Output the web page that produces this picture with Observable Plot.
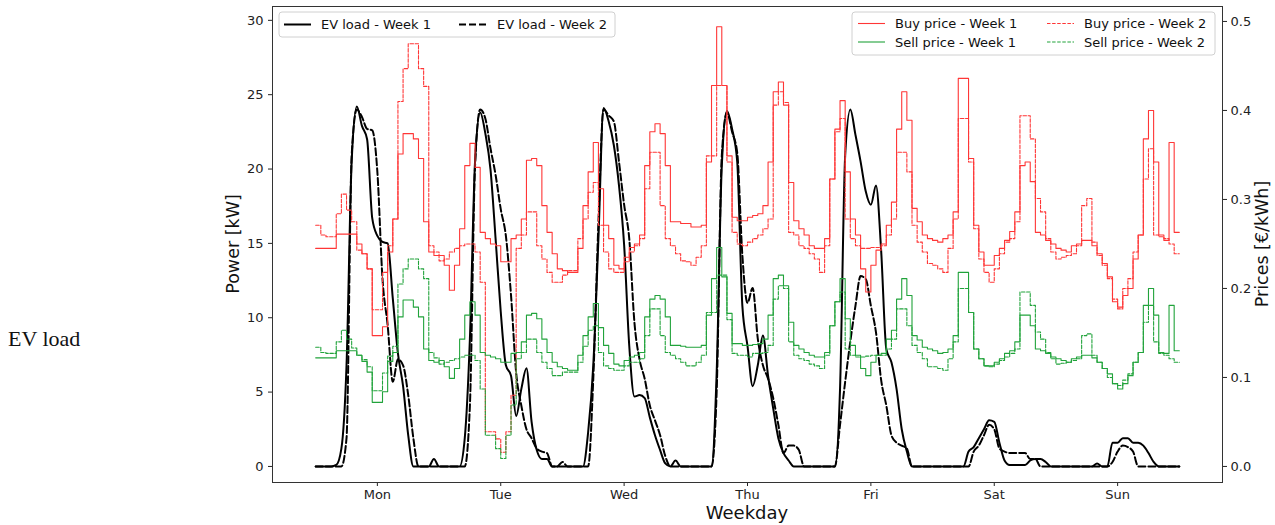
<!DOCTYPE html>
<html><head><meta charset="utf-8">
<script src="https://cdn.jsdelivr.net/npm/d3@7"></script>
<script src="https://cdn.jsdelivr.net/npm/@observablehq/plot@0.6"></script>
<style>
body{margin:0;background:#fff;}
#wrap{position:relative;width:1275px;height:525px;overflow:hidden;}
#evlabel{position:absolute;left:8px;top:326px;z-index:5;font-family:"Liberation Serif","DejaVu Serif",serif;font-size:22px;color:#111;}
</style></head><body>
<div id="wrap"><div id="evlabel">EV load</div></div>
<script>
// Day labels (ticks at noon of each day), hours 0..168 from Monday 00:00
const dayLabels = ["Mon","Tue","Wed","Thu","Fri","Sat","Sun"];
const kwTicks = [0,5,10,15,20,25,30];
const priceTicks = [0.0,0.1,0.2,0.3,0.4,0.5];

// EV load [kW], hourly
const evWeek1 = [
0,0,0,0,0.1,1.2,6.8,20.5,24.2,22.9,
22.0,16.7,15.5,15.1,15.0,11.3,7.6,5.4,2.1,0,
0,0,0,0.5,0,0,0,0,0,1.9,
8.6,20.5,23.8,22.4,20.0,15.3,10.4,6.8,6.1,3.4,
5.2,6.6,3.0,1.1,0.5,0.5,0,0,0,0,
0,0,0,2.3,6.8,15.3,24.1,23.2,21.6,18.9,
14.9,8.1,4.7,4.8,4.6,3.3,2.1,1.1,0.2,0,
0.4,0,0,0,0,0,0,0,6.3,20.2,
23.9,22.7,20.5,10.8,8.1,5.4,6.8,8.8,6.1,3.9,
1.9,0.9,0.4,0,0,0,0,0,0,0,
0,0,5.2,20.9,24.0,22.3,20.5,18.5,17.6,18.9,
14.5,7.9,7.0,5.2,2.5,1.0,0,0,0,0,
0,0,0,0,0,0,0,1.0,1.3,1.9,
2.5,3.1,3.0,1.6,0.4,0.1,0.1,0.1,0.1,0.4,
0.5,0.5,0.3,0,0,0,0,0,0,0,
0,0,0.2,0,0,1.6,1.6,1.9,1.9,1.6,
1.6,1.4,0.9,0.3,0,0,0,0,0];
const evWeek2 = [
0,0,0,0,0,0,1.9,20.9,24.0,23.5,
22.7,22.6,19.8,12.6,9.5,5.7,7.2,6.8,4.8,1.9,
0,0,0,0,0,0,0,0,0,0,
4.1,20.2,24.0,23.4,21.4,19.6,17.3,15.5,11.5,6.3,
4.1,2.5,1.9,1.2,1.0,0.9,0,0,0.3,0,
0,0,0,0,5.9,16.4,24.0,23.6,23.2,20.5,
17.6,15.3,9.7,7.2,5.9,4.1,3.1,2.1,0.7,0,
0,0,0,0,0,0,0,0,5.0,20.9,
23.8,22.5,21.1,14.2,11.0,12.0,8.6,6.8,5.9,4.6,
2.8,0.9,1.4,1.4,1.1,0,0,0,0,0,
0,0,2.8,5.7,8.4,10.8,12.8,12.6,10.8,9.0,
5.8,4.1,2.1,1.6,1.4,1.2,0,0,0,0,
0,0,0,0,0,0,0,0,1.0,1.4,
2.1,2.8,2.5,1.2,1.0,0.9,0.9,0.9,0.9,0.5,
0.5,0,0,0,0,0,0,0,0,0,
0,0,0,0,0,0.3,1.0,1.4,1.3,1.0,
0,0,0,0,0,0,0,0,0];

// Prices [€/kWh], hourly
const buyWeek1 = [
0.245,0.245,0.245,0.245,0.261,0.261,0.261,0.261,0.250,0.239,
0.222,0.147,0.147,0.157,0.241,0.278,0.351,0.374,0.374,0.368,
0.346,0.275,0.241,0.237,0.237,0.226,0.198,0.226,0.267,0.338,
0.363,0.336,0.263,0.256,0.250,0.248,0.230,0.230,0.256,0.260,
0.278,0.344,0.346,0.338,0.293,0.263,0.239,0.222,0.220,0.218,
0.218,0.245,0.293,0.331,0.364,0.312,0.271,0.256,0.226,0.222,
0.235,0.246,0.250,0.260,0.338,0.376,0.385,0.374,0.338,0.275,
0.275,0.273,0.273,0.269,0.269,0.271,0.342,0.428,0.494,0.428,
0.349,0.280,0.276,0.276,0.280,0.282,0.284,0.293,0.342,0.421,
0.432,0.406,0.319,0.276,0.267,0.260,0.248,0.245,0.245,0.256,
0.323,0.379,0.411,0.331,0.278,0.260,0.222,0.196,0.226,0.243,
0.250,0.271,0.297,0.379,0.421,0.389,0.290,0.275,0.260,0.256,
0.254,0.252,0.256,0.260,0.286,0.436,0.436,0.346,0.271,0.241,
0.226,0.226,0.237,0.245,0.254,0.264,0.286,0.338,0.342,0.320,
0.263,0.260,0.254,0.250,0.245,0.243,0.241,0.248,0.250,0.254,
0.254,0.248,0.239,0.228,0.213,0.185,0.179,0.192,0.200,0.233,
0.260,0.368,0.400,0.342,0.260,0.254,0.364,0.263,0.263];
const buyWeek2 = [
0.271,0.260,0.258,0.258,0.284,0.306,0.288,0.275,0.243,0.239,
0.222,0.176,0.176,0.218,0.248,0.278,0.410,0.447,0.475,0.475,
0.447,0.427,0.248,0.241,0.231,0.233,0.241,0.245,0.248,0.250,
0.250,0.241,0.207,0.039,0.039,0.031,0.016,0.039,0.080,0.245,
0.260,0.286,0.286,0.248,0.233,0.218,0.207,0.207,0.215,0.220,
0.220,0.256,0.278,0.308,0.319,0.271,0.241,0.222,0.218,0.218,
0.230,0.241,0.248,0.256,0.312,0.353,0.353,0.293,0.256,0.248,
0.239,0.231,0.230,0.226,0.235,0.248,0.349,0.349,0.428,0.428,
0.342,0.263,0.250,0.248,0.252,0.256,0.260,0.267,0.278,0.406,
0.421,0.409,0.263,0.260,0.248,0.245,0.239,0.233,0.218,0.248,
0.323,0.376,0.391,0.278,0.256,0.248,0.245,0.245,0.246,0.246,
0.248,0.260,0.278,0.353,0.353,0.331,0.271,0.252,0.241,0.228,
0.226,0.222,0.218,0.245,0.278,0.391,0.391,0.342,0.267,0.233,
0.218,0.207,0.222,0.239,0.252,0.256,0.275,0.394,0.394,0.368,
0.301,0.286,0.256,0.241,0.233,0.235,0.237,0.239,0.248,0.293,
0.301,0.252,0.237,0.226,0.211,0.188,0.177,0.200,0.211,0.241,
0.260,0.323,0.357,0.260,0.258,0.256,0.250,0.239,0.239];
const sellWeek1 = [
0.122,0.122,0.122,0.122,0.130,0.130,0.130,0.130,0.125,0.118,
0.106,0.072,0.072,0.084,0.118,0.128,0.168,0.187,0.187,0.179,
0.168,0.132,0.119,0.117,0.119,0.112,0.099,0.110,0.143,0.170,
0.185,0.170,0.128,0.125,0.123,0.121,0.117,0.117,0.127,0.128,
0.140,0.170,0.172,0.166,0.143,0.128,0.117,0.112,0.110,0.108,
0.108,0.125,0.147,0.168,0.183,0.156,0.136,0.127,0.115,0.113,
0.119,0.123,0.125,0.128,0.168,0.188,0.192,0.188,0.168,0.136,
0.136,0.135,0.134,0.134,0.134,0.136,0.170,0.211,0.246,0.213,
0.172,0.138,0.138,0.136,0.136,0.137,0.138,0.143,0.170,0.211,
0.215,0.203,0.162,0.136,0.132,0.128,0.125,0.123,0.123,0.128,
0.158,0.185,0.211,0.166,0.136,0.125,0.110,0.102,0.117,0.125,
0.127,0.143,0.153,0.188,0.211,0.192,0.147,0.142,0.134,0.132,
0.130,0.127,0.128,0.132,0.147,0.218,0.218,0.173,0.132,0.121,
0.113,0.113,0.117,0.121,0.127,0.130,0.140,0.170,0.170,0.158,
0.132,0.130,0.127,0.123,0.121,0.119,0.117,0.121,0.123,0.125,
0.125,0.122,0.117,0.110,0.104,0.093,0.087,0.093,0.102,0.117,
0.128,0.181,0.200,0.170,0.128,0.127,0.181,0.130,0.130];
const sellWeek2 = [
0.134,0.128,0.127,0.127,0.140,0.153,0.143,0.133,0.125,0.120,
0.112,0.085,0.085,0.105,0.124,0.135,0.205,0.222,0.233,0.233,
0.222,0.211,0.128,0.122,0.115,0.117,0.119,0.121,0.123,0.125,
0.125,0.119,0.087,0.035,0.035,0.020,0.009,0.035,0.069,0.121,
0.128,0.143,0.143,0.128,0.117,0.110,0.102,0.102,0.106,0.106,
0.106,0.117,0.135,0.153,0.158,0.128,0.113,0.110,0.108,0.108,
0.113,0.117,0.117,0.121,0.147,0.177,0.177,0.147,0.128,0.125,
0.121,0.117,0.113,0.113,0.117,0.125,0.173,0.173,0.215,0.215,
0.165,0.127,0.125,0.125,0.123,0.127,0.127,0.128,0.136,0.188,
0.203,0.200,0.140,0.125,0.121,0.119,0.115,0.113,0.110,0.125,
0.158,0.185,0.196,0.132,0.125,0.123,0.123,0.124,0.125,0.125,
0.125,0.132,0.143,0.177,0.177,0.158,0.136,0.128,0.121,0.112,
0.112,0.110,0.108,0.121,0.140,0.200,0.200,0.173,0.132,0.121,
0.113,0.112,0.115,0.119,0.123,0.127,0.132,0.196,0.196,0.181,
0.151,0.143,0.128,0.121,0.115,0.116,0.117,0.119,0.121,0.147,
0.149,0.125,0.117,0.110,0.100,0.093,0.091,0.097,0.104,0.117,
0.128,0.162,0.181,0.140,0.127,0.125,0.121,0.117,0.117];

// secondary-axis factor: kW-axis units per €/kWh
const K = 59.85;
const hours = evWeek1.map((_, i) => i);
const dayTicks = dayLabels.map((_, i) => 12 + 24 * i);
const RED = "#ff3636", GREEN = "#21a33b";

const chart = Plot.plot({
  width: 1275, height: 525,
  marginLeft: 272, marginRight: 53, marginTop: 6, marginBottom: 43,
  x: {domain: [-8.4, 176.4]},
  y: {domain: [-1.08, 30.93]},
  style: {fontFamily: "DejaVu Sans", fontSize: "13px", color: "#222", background: "transparent", overflow: "visible"},
  marks: [
    Plot.line(hours, {x: d => d, y: i => evWeek1[i], curve: "monotone-x", stroke: "black", strokeWidth: 2}),
    Plot.line(hours, {x: d => d, y: i => evWeek2[i], curve: "monotone-x", stroke: "black", strokeWidth: 2, strokeDasharray: "7,3"}),
    Plot.line(hours, {x: d => d, y: i => buyWeek1[i] * K, curve: "step-after", stroke: RED, strokeWidth: 1.1}),
    Plot.line(hours, {x: d => d, y: i => buyWeek2[i] * K, curve: "step-after", stroke: RED, strokeWidth: 1.1, strokeDasharray: "3.5,1.6"}),
    Plot.line(hours, {x: d => d, y: i => sellWeek1[i] * K, curve: "step-after", stroke: GREEN, strokeWidth: 1.1}),
    Plot.line(hours, {x: d => d, y: i => sellWeek2[i] * K, curve: "step-after", stroke: GREEN, strokeWidth: 1.1, strokeDasharray: "3.5,1.6"}),
    Plot.axisY({anchor: "left", ticks: kwTicks, tickSize: 4, tickPadding: 5, label: null}),
    Plot.axisY({anchor: "right", ticks: priceTicks.map(v => v * K), tickFormat: d => (d / K).toFixed(1), tickSize: 4, tickPadding: 4, label: null}),
    Plot.axisX({ticks: dayTicks, tickFormat: d => dayLabels[Math.round((d - 12) / 24)], tickSize: 4, tickPadding: 3, label: null}),
    Plot.frame({stroke: "#333", strokeWidth: 1})
  ]
});
document.getElementById("wrap").appendChild(chart);
chart.style.position = "absolute"; chart.style.left = "0px"; chart.style.top = "0px";

const svg = d3.select(chart);
const font = "DejaVu Sans";
function label(txt, x, y, size, rot) {
  svg.append("text").attr("transform", `translate(${x},${y})` + (rot ? ` rotate(${rot})` : ""))
    .attr("text-anchor", "middle").attr("dominant-baseline", "central")
    .attr("font-family", font).attr("font-size", size).attr("fill", "#111").text(txt);
}
label("Power [kW]", 233, 244, 17.5, -90);
label("Prices [€/kWh]", 1262, 244, 17.5, -90);
label("Weekday", 747, 512, 18, 0);

function box(x, y, w, h) {
  svg.append("rect").attr("x", x).attr("y", y).attr("width", w).attr("height", h).attr("rx", 3)
    .attr("fill", "white").attr("fill-opacity", 0.85).attr("stroke", "#d0d0d0").attr("stroke-width", 1);
}
function item(x, y, color, dash, width, txt, tx) {
  const l = svg.append("line").attr("x1", x).attr("x2", x + 27).attr("y1", y).attr("y2", y)
    .attr("stroke", color).attr("stroke-width", width);
  if (dash) l.attr("stroke-dasharray", dash);
  svg.append("text").attr("x", tx).attr("y", y).attr("text-anchor", "start").attr("dominant-baseline", "central")
    .attr("font-family", font).attr("font-size", 13).attr("fill", "#111").text(txt);
}
box(279, 12, 336, 25);
item(284, 24.5, "black", null, 2, "EV load - Week 1", 321);
item(459, 24.5, "black", "7,3", 2, "EV load - Week 2", 497);
box(852, 12, 363, 43);
item(858, 23.5, RED, null, 1.1, "Buy price - Week 1", 895);
item(1047, 23.5, RED, "3.5,1.6", 1.1, "Buy price - Week 2", 1084);
item(858, 42, GREEN, null, 1.1, "Sell price - Week 1", 895);
item(1047, 42, GREEN, "3.5,1.6", 1.1, "Sell price - Week 2", 1084);
</script>
</body></html>
